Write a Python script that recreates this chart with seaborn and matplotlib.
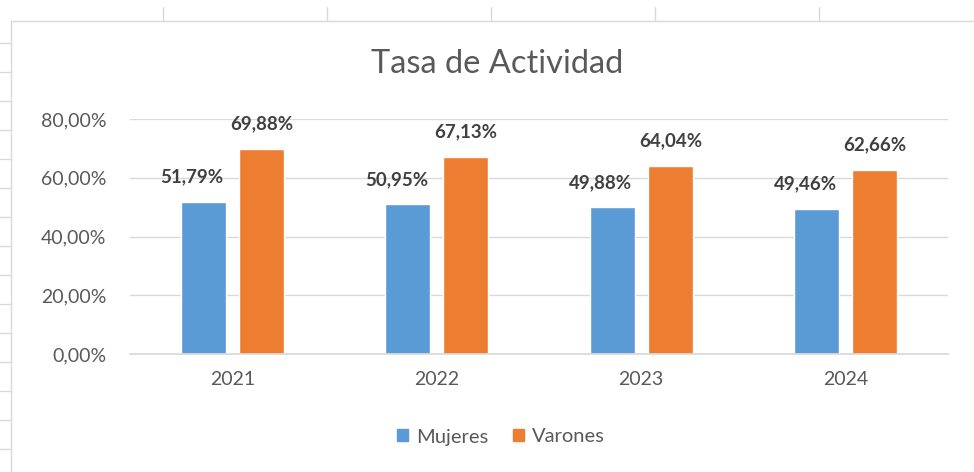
import matplotlib
matplotlib.use("Agg")
import matplotlib.pyplot as plt
from matplotlib.lines import Line2D
from matplotlib.patches import Rectangle
import pandas as pd
import seaborn as sns

years = ["2021", "2022", "2023", "2024"]
mujeres = [51.79, 50.95, 49.88, 49.46]
varones = [69.88, 67.13, 64.04, 62.66]
series = ["Mujeres", "Varones"]
colors = ["#5B9BD5", "#ED7D31"]
yticks = [0, 20, 40, 60, 80]

df = pd.DataFrame({
    "Año": years * 2,
    "Tasa": mujeres + varones,
    "Sexo": [series[0]] * len(years) + [series[1]] * len(years),
})

sns.set_theme(style="white")
plt.rcParams["font.family"] = ["Lato", "DejaVu Sans"]

fig = plt.figure(figsize=(9.74, 4.72), dpi=100)
W, H = 974, 472
ax = fig.add_axes([130 / W, 1 - 354 / H, (948 - 130) / W, (354 - 119) / H])

sns.barplot(data=df, x="Año", y="Tasa", hue="Sexo", palette=colors,
            width=0.57, gap=0.23, ax=ax, saturation=1)

ax.set_ylim(0, 80)
ax.set_yticks(yticks)
ax.set_yticklabels([f"{v:.2f}".replace(".", ",") + "%" for v in yticks],
                   color="#595959", fontsize=14)
ax.tick_params(axis="x", colors="#595959", labelsize=14, length=0, pad=12)
ax.tick_params(axis="y", length=0, pad=17)
ax.grid(axis="y", color="#D9D9D9", linewidth=1)
ax.set_axisbelow(True)
for s in ["top", "right", "left"]:
    ax.spines[s].set_visible(False)
ax.spines["bottom"].set_color("#D9D9D9")
ax.set_xlabel("")
ax.set_ylabel("")

# data labels
for i, cont in enumerate(ax.containers):
    dx = -8 if i == 0 else 0
    for bar in cont:
        v = bar.get_height()
        ax.annotate(f"{v:.2f}".replace(".", ",") + "%",
                    (bar.get_x() + bar.get_width() / 2, v),
                    xytext=(dx, 18), textcoords="offset points",
                    ha="center", va="center", fontsize=13.5,
                    fontweight="bold", color="#404040", annotation_clip=False)

fig.text(497 / W, 1 - 64 / H, "Tasa de Actividad", ha="center", va="center",
         fontsize=23.5, color="#595959")

handles = [Rectangle((0, 0), 1, 1, color=c) for c in colors]
ax.legend(handles, series, loc="center", bbox_to_anchor=(501 / W, 1 - 437 / H),
          bbox_transform=fig.transFigure, ncol=2, frameon=False,
          handlelength=0.55, handleheight=0.55, handletextpad=0.4,
          columnspacing=1.2, fontsize=14.5, labelcolor="#595959")

# spreadsheet frame around the chart
fig.add_artist(Line2D([11 / W, 1], [1 - 21 / H] * 2, color="#D9D9D9", lw=1))
fig.add_artist(Line2D([11 / W] * 2, [0, 1 - 21 / H], color="#D9D9D9", lw=1))
for x in [163, 327, 491, 655, 819]:
    fig.add_artist(Line2D([x / W] * 2, [1 - 7 / H, 1 - 21 / H], color="#D9D9D9", lw=1))
for y in range(43, 470, 29):
    fig.add_artist(Line2D([0, 11 / W], [1 - y / H] * 2, color="#D9D9D9", lw=1))

fig.savefig("out.png", dpi=100, facecolor="white")
